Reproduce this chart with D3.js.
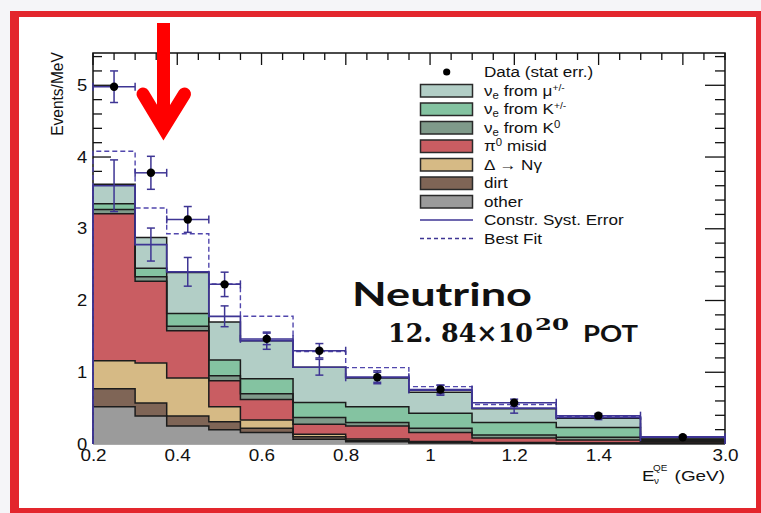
<!DOCTYPE html>
<html><head><meta charset="utf-8">
<script src="https://cdn.jsdelivr.net/npm/d3@7"></script>
<style>body{margin:0;background:#fff}svg{display:block}</style>
</head><body>
<script>
// ---------- data ----------
const binEdges = [0.2,0.3,0.375,0.475,0.55,0.675,0.8,0.95,1.1,1.3,1.5,3.0];
const otherV = [0.52,0.39,0.25,0.20,0.16,0.065,0.03,0.015,0.01,0.005,0.005];
const dirtV  = [0.25,0.18,0.14,0.11,0.06,0.035,0.02,0.01,0.005,0.005,0.005];
const deltaV = [0.39,0.56,0.53,0.21,0.115,0.035,0.02,0.01,0.005,0.005,0.005];
const pi0V   = [2.05,1.14,0.66,0.36,0.285,0.14,0.18,0.125,0.065,0.041,0.015];
const nueK0V = [0.06,0.06,0.06,0.07,0.08,0.095,0.05,0.06,0.04,0.039,0.015];
const nueKpmV= [0.08,0.12,0.18,0.22,0.21,0.21,0.22,0.21,0.175,0.135,0.02];
const nueMuV = [0.27,0.43,0.57,0.53,0.53,0.49,0.40,0.29,0.19,0.13,0.02];
const constrPred = [3.60,2.78,2.40,1.78,1.44,1.07,0.93,0.75,0.50,0.37,0.10];
const constrErr  = [0.36,0.23,0.20,0.145,0.12,0.11,0.09,0.07,0.07,0.03,0.01];
const bestFit    = [4.08,3.29,2.93,2.23,1.78,1.29,1.065,0.80,0.55,0.38,0.10];
const dataV      = [4.98,3.78,3.13,2.225,1.465,1.30,0.93,0.76,0.575,0.395,0.095];
const dataErr    = [0.22,0.23,0.18,0.17,0.08,0.10,0.07,0.06,0.05,0.03,0.01];
const xTickValues = [0.2,0.4,0.6,0.8,1.0,1.2,1.4,3.0];
const xTickLabels = ["0.2","0.4","0.6","0.8","1","1.2","1.4","3.0"];
const yTickValues = [0,1,2,3,4,5];
const yTickLabels = ["0","1","2","3","4","5"];
const stackKeys = ["other","dirt","delta","pi0","k0","kpm","mu"];
const stackColors = {mu:"#b2cec6",kpm:"#84c3a1",k0:"#7f9a8a",pi0:"#c95d62",delta:"#d6ba85",dirt:"#7f6556",other:"#9b9b9b"};
const legendRows = [
  {type:"dot", segs:[["Data (stat err.)",0,null]]},
  {type:"box", key:"mu",  segs:[["\u03bd",0,null],["e",3,10],[" from \u03bc",-3,null],["+/-",-5,9]]},
  {type:"box", key:"kpm", segs:[["\u03bd",0,null],["e",3,10],[" from K",-3,null],["+/-",-5,9]]},
  {type:"box", key:"k0",  segs:[["\u03bd",0,null],["e",3,10],[" from K",-3,null],["0",-5,10]]},
  {type:"box", key:"pi0", segs:[["\u03c0",0,null],["0",-5,10],[" misid",5,null]]},
  {type:"box", key:"delta", segs:[["\u0394 \u2192 N\u03b3",0,null]]},
  {type:"box", key:"dirt", segs:[["dirt",0,null]]},
  {type:"box", key:"other", segs:[["other",0,null]]},
  {type:"line", segs:[["Constr. Syst. Error",0,null]]},
  {type:"dash", segs:[["Best Fit",0,null]]}
];

// ---------- setup ----------
const W = 761, H = 513;
const BLUE = "#3e3594";
const svg = d3.select("body").append("svg").attr("width", W).attr("height", H)
  .style("font-family", "'Liberation Sans', Arial, sans-serif");

svg.append("rect").attr("width", W).attr("height", H).attr("fill", "#f5f5f8");
svg.append("rect").attr("x", 10).attr("y", 11).attr("width", 751).attr("height", 502).attr("fill", "#e3262d");
svg.append("rect").attr("x", 19).attr("y", 17).attr("width", 737).attr("height", 491).attr("fill", "#fff");

const x = d3.scaleLinear().domain([0.2, 1.5, 3.0]).range([93, 640.5, 725]);
const xTop = d3.scaleLinear().domain([0.2, 1.7]).range([93, 725]);
const y = d3.scaleLinear().domain([0, 5.45]).range([444, 53]);
const X0 = 93, X1 = 725, Y0 = 444, Y1 = 53;

// ---------- ticks (under histograms) ----------
const gT = svg.append("g").attr("stroke", "#111").attr("stroke-width", 1.3);
d3.range(0, 5.41, 0.2).forEach(v => {
  const maj = Math.abs(v - Math.round(v)) < 1e-6;
  gT.append("line").attr("x1", X0).attr("x2", X0 + (maj ? 18 : 9)).attr("y1", y(v)).attr("y2", y(v));
  gT.append("line").attr("x1", X1).attr("x2", X1 - (maj ? 20 : 10)).attr("y1", y(v)).attr("y2", y(v));
});
d3.range(0, 31).forEach(k => {
  const v = 0.2 + k * 0.05;
  const maj = k % 4 === 0;
  gT.append("line").attr("x1", xTop(v)).attr("x2", xTop(v)).attr("y1", Y1).attr("y2", Y1 + (maj ? 12 : 7));
});
svg.append("line").attr("x1", X0).attr("x2", X1).attr("y1", Y0 + 0.5).attr("y2", Y0 + 0.5).attr("stroke", "#aaa").attr("stroke-width", 1.2);

// ---------- stacked histogram ----------
const rows = binEdges.slice(0, -1).map((lo, i) => ({
  lo, hi: binEdges[i + 1],
  other: otherV[i], dirt: dirtV[i], delta: deltaV[i], pi0: pi0V[i],
  k0: nueK0V[i], kpm: nueKpmV[i], mu: nueMuV[i]
}));
const series = d3.stack().keys(stackKeys)(rows);
const area = d3.area().x(p => x(p.x)).y0(p => y(p.y0)).y1(p => y(p.y1));
const topLine = d3.line().x(p => x(p.x)).y(p => y(p.y1));
const gS = svg.append("g");
series.forEach(s => {
  const pts = s.flatMap(d => [{x: d.data.lo, y0: d[0], y1: d[1]}, {x: d.data.hi, y0: d[0], y1: d[1]}]);
  gS.append("path").attr("d", area(pts)).attr("fill", stackColors[s.key]);
});
series.forEach(s => {
  const pts = s.flatMap(d => [{x: d.data.lo, y1: d[1]}, {x: d.data.hi, y1: d[1]}]);
  gS.append("path").attr("d", topLine(pts)).attr("fill", "none").attr("stroke", "#1c1c1c").attr("stroke-width", 1.5);
});

// ---------- frame ----------
const gF = svg.append("g").attr("stroke", "#111").attr("stroke-width", 1.5).attr("fill", "none");
gF.append("path").attr("d", `M${X0},${Y0}V${Y1}H${X1}V${Y0}`);

// ---------- step lines ----------
function stepPts(vals) {
  const pts = [{x: binEdges[0], v: 0}];
  vals.forEach((v, i) => { pts.push({x: binEdges[i], v}); pts.push({x: binEdges[i + 1], v}); });
  pts.push({x: binEdges[binEdges.length - 1], v: 0});
  return pts;
}
const stepLine = d3.line().x(p => x(p.x)).y(p => y(p.v));
svg.append("path").attr("d", stepLine(stepPts(bestFit))).attr("fill", "none")
  .attr("stroke", "#5147ad").attr("stroke-width", 1.4).attr("stroke-dasharray", "5,3");
svg.append("path").attr("d", stepLine(stepPts(constrPred))).attr("fill", "none")
  .attr("stroke", BLUE).attr("stroke-width", 1.7);

// ---------- error bars ----------
const gE = svg.append("g").attr("stroke", BLUE).attr("stroke-width", 1.5);
const cap = 4;
constrPred.forEach((v, i) => {
  const cx = x((binEdges[i] + binEdges[i + 1]) / 2);
  const a = y(v + constrErr[i]), b = y(v - constrErr[i]);
  gE.append("line").attr("x1", cx).attr("x2", cx).attr("y1", a).attr("y2", b);
  gE.append("line").attr("x1", cx - cap).attr("x2", cx + cap).attr("y1", a).attr("y2", a);
  gE.append("line").attr("x1", cx - cap).attr("x2", cx + cap).attr("y1", b).attr("y2", b);
});
dataV.forEach((v, i) => {
  const lo = x(binEdges[i]), hi = x(binEdges[i + 1]);
  const cx = x((binEdges[i] + binEdges[i + 1]) / 2), cy = y(v);
  const a = y(v + dataErr[i]), b = y(v - dataErr[i]);
  gE.append("line").attr("x1", lo).attr("x2", hi).attr("y1", cy).attr("y2", cy);
  gE.append("line").attr("x1", lo).attr("x2", lo).attr("y1", cy - cap).attr("y2", cy + cap);
  gE.append("line").attr("x1", hi).attr("x2", hi).attr("y1", cy - cap).attr("y2", cy + cap);
  gE.append("line").attr("x1", cx).attr("x2", cx).attr("y1", a).attr("y2", b);
  gE.append("line").attr("x1", cx - cap).attr("x2", cx + cap).attr("y1", a).attr("y2", a);
  gE.append("line").attr("x1", cx - cap).attr("x2", cx + cap).attr("y1", b).attr("y2", b);
});
svg.append("g").selectAll("circle").data(dataV).join("circle")
  .attr("cx", (v, i) => x((binEdges[i] + binEdges[i + 1]) / 2)).attr("cy", v => y(v))
  .attr("r", 4.2).attr("fill", "#000");

// ---------- axis labels ----------
const xAxis = d3.axisBottom(x).tickValues(xTickValues).tickSize(0).tickPadding(0)
  .tickFormat((d, i) => xTickLabels[i]);
const gx = svg.append("g").attr("transform", `translate(0,${Y0})`).call(xAxis);
gx.select(".domain").remove();
gx.selectAll("text").attr("font-size", 16).attr("fill", "#111")
  .attr("font-family", "'Liberation Sans', Arial, sans-serif")
  .attr("dy", null).attr("y", 17).attr("transform", "scale(1.18,1)");

const yAxis = d3.axisLeft(y).tickValues(yTickValues).tickSize(0).tickPadding(5)
  .tickFormat((d, i) => yTickLabels[i]);
const gy = svg.append("g").attr("transform", `translate(${X0},0)`).call(yAxis);
gy.select(".domain").remove();
gy.selectAll("text").attr("font-size", 16).attr("fill", "#111")
  .attr("font-family", "'Liberation Sans', Arial, sans-serif")
  .attr("transform", "scale(1.15,1)");

svg.append("text").attr("transform", "translate(63,94) rotate(-90) scale(1,1.12)")
  .attr("text-anchor", "middle").attr("font-size", 15.5).attr("fill", "#111").text("Events/MeV");

const xt = svg.append("g").attr("fill", "#111");
xt.append("text").attr("transform", "translate(642,481) scale(1.2,1)").attr("font-size", 15.5).text("E");
xt.append("text").attr("transform", "translate(654,484) scale(1.1,1)").attr("font-size", 9).text("\u03bd");
xt.append("text").attr("transform", "translate(653,471) scale(1.1,1)").attr("font-size", 9).text("QE");
xt.append("text").attr("transform", "translate(725,481) scale(1.22,1)").attr("text-anchor", "end")
  .attr("font-size", 15.5).text("(GeV)");

// ---------- legend ----------
const gL = svg.append("g");
const rowY0 = 72, rowDY = 18.5;
legendRows.forEach((r, i) => {
  const cy = rowY0 + i * rowDY;
  if (r.type === "dot") gL.append("circle").attr("cx", 446.7).attr("cy", cy).attr("r", 3.6).attr("fill", "#000");
  if (r.type === "box") gL.append("rect").attr("x", 420.5).attr("y", cy - 6).attr("width", 52).attr("height", 12.5)
    .attr("fill", stackColors[r.key]).attr("stroke", "#2a2a2a").attr("stroke-width", 1.5);
  if (r.type === "line") gL.append("line").attr("x1", 420).attr("x2", 473).attr("y1", cy).attr("y2", cy)
    .attr("stroke", BLUE).attr("stroke-width", 1.3);
  if (r.type === "dash") gL.append("line").attr("x1", 420).attr("x2", 473).attr("y1", cy).attr("y2", cy)
    .attr("stroke", BLUE).attr("stroke-width", 1.3).attr("stroke-dasharray", "4,3");
  const t = gL.append("text").attr("transform", `translate(484,${cy + 5.3}) scale(1.14,1)`)
    .attr("font-size", 15).attr("fill", "#111");
  r.segs.forEach(([s, dy, fs]) => {
    const ts = t.append("tspan").text(s);
    if (dy) ts.attr("dy", dy);
    if (fs) ts.attr("font-size", fs);
  });
});

// ---------- annotation ----------
svg.append("text").attr("x", 352).attr("y", 306).attr("font-family", "Lato, 'Open Sans', sans-serif")
  .attr("font-weight", 700).attr("font-size", 33).attr("fill", "#111")
  .attr("textLength", 180).attr("lengthAdjust", "spacingAndGlyphs").text("Neutrino");
svg.append("text").attr("x", 388).attr("y", 342).attr("font-family", "'DejaVu Serif', serif")
  .attr("font-weight", 700).attr("font-size", 26).attr("fill", "#111")
  .attr("textLength", 145).attr("lengthAdjust", "spacingAndGlyphs").text("12. 84\u00d710");
svg.append("text").attr("x", 535).attr("y", 330).attr("font-family", "'DejaVu Serif', serif")
  .attr("font-weight", 700).attr("font-size", 17).attr("fill", "#111")
  .attr("textLength", 34).attr("lengthAdjust", "spacingAndGlyphs").text("20");
svg.append("text").attr("x", 583).attr("y", 342).attr("font-family", "Lato, 'Open Sans', sans-serif")
  .attr("font-weight", 700).attr("font-size", 23).attr("fill", "#111")
  .attr("textLength", 55).attr("lengthAdjust", "spacingAndGlyphs").text("POT");

// ---------- red arrow ----------
const gA = svg.append("g").attr("stroke", "#ff0000").attr("stroke-width", 13).attr("fill", "none");
gA.append("path").attr("d", "M163.5,23V126");
gA.append("path").attr("d", "M143,94L163.5,128L184.5,94").attr("stroke-linecap", "round").attr("stroke-linejoin", "miter");
</script>
</body></html>
